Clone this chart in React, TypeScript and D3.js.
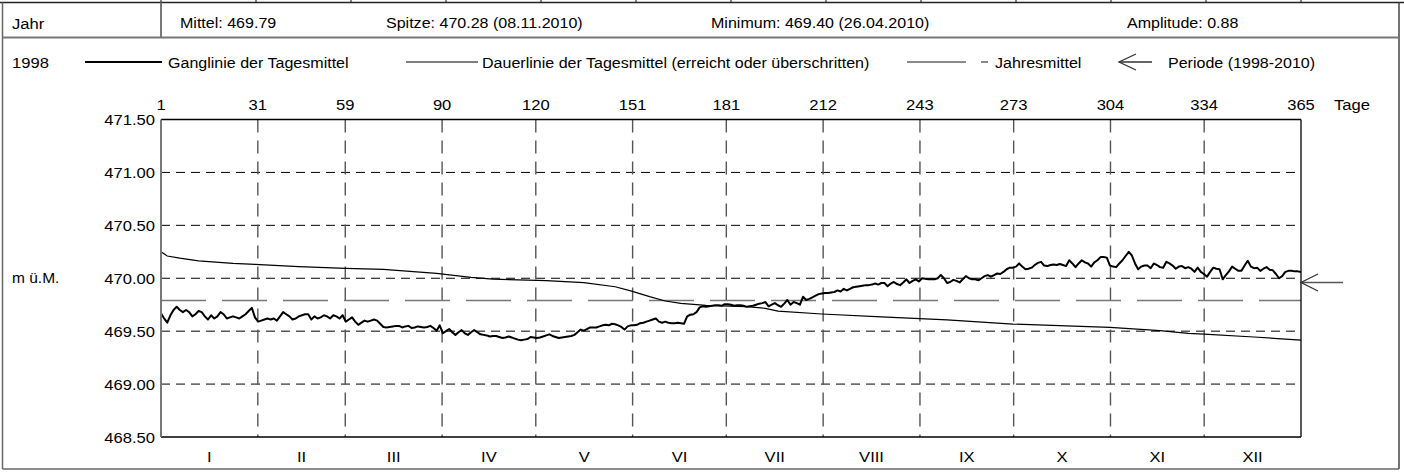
import React from "react";
import * as d3 from "d3";

// Tagesmittel 1998, one array per month (m ü.M.)
const jan = [469.67, 469.62, 469.58, 469.65, 469.70, 469.73, 469.70, 469.68, 469.70, 469.68, 469.64, 469.66, 469.69, 469.68, 469.64, 469.61, 469.65, 469.62, 469.64, 469.68, 469.66, 469.62, 469.63, 469.64, 469.63, 469.62, 469.64, 469.66, 469.69, 469.72, 469.63];
const feb = [469.59, 469.60, 469.61, 469.62, 469.61, 469.62, 469.60, 469.64, 469.68, 469.66, 469.64, 469.61, 469.62, 469.64, 469.65, 469.66, 469.66, 469.61, 469.64, 469.62, 469.63, 469.65, 469.64, 469.62, 469.65, 469.64, 469.62, 469.65];
const mar = [469.59, 469.61, 469.63, 469.59, 469.56, 469.58, 469.60, 469.59, 469.60, 469.61, 469.60, 469.57, 469.54, 469.535, 469.54, 469.545, 469.55, 469.55, 469.535, 469.545, 469.55, 469.53, 469.535, 469.545, 469.54, 469.535, 469.54, 469.55, 469.53, 469.505, 469.555];
const apr = [469.48, 469.50, 469.52, 469.49, 469.465, 469.49, 469.51, 469.48, 469.465, 469.49, 469.51, 469.49, 469.47, 469.465, 469.46, 469.45, 469.455, 469.455, 469.445, 469.435, 469.44, 469.45, 469.44, 469.43, 469.42, 469.415, 469.42, 469.425, 469.445, 469.44];
const may = [469.435, 469.44, 469.45, 469.46, 469.47, 469.455, 469.445, 469.435, 469.44, 469.445, 469.45, 469.455, 469.465, 469.49, 469.515, 469.505, 469.52, 469.535, 469.535, 469.535, 469.545, 469.555, 469.56, 469.555, 469.57, 469.565, 469.555, 469.54, 469.515, 469.545, 469.555];
const jun = [469.555, 469.56, 469.575, 469.58, 469.59, 469.60, 469.61, 469.62, 469.59, 469.58, 469.59, 469.58, 469.575, 469.575, 469.58, 469.575, 469.57, 469.64, 469.655, 469.66, 469.68, 469.725, 469.735, 469.73, 469.735, 469.74, 469.745, 469.745, 469.74, 469.755];
const jul = [469.755, 469.75, 469.74, 469.745, 469.745, 469.74, 469.73, 469.735, 469.74, 469.75, 469.76, 469.765, 469.775, 469.735, 469.75, 469.765, 469.745, 469.73, 469.76, 469.795, 469.75, 469.775, 469.765, 469.75, 469.825, 469.795, 469.805, 469.82, 469.835, 469.85, 469.855];
const aug = [469.86, 469.86, 469.865, 469.87, 469.885, 469.875, 469.90, 469.885, 469.90, 469.915, 469.92, 469.925, 469.93, 469.935, 469.935, 469.94, 469.95, 469.94, 469.955, 469.955, 469.925, 469.95, 469.965, 469.945, 469.935, 469.96, 469.99, 469.955, 469.975, 469.99, 469.97];
const sep = [470.00, 469.995, 469.99, 469.99, 469.99, 470.00, 470.03, 470.00, 469.955, 469.965, 469.985, 469.975, 469.96, 469.99, 470.02, 470.00, 469.99, 469.99, 469.98, 470.00, 470.02, 470.03, 470.015, 470.03, 470.045, 470.04, 470.06, 470.085, 470.10, 470.10];
const oct = [470.11, 470.14, 470.11, 470.085, 470.09, 470.10, 470.125, 470.145, 470.155, 470.12, 470.115, 470.125, 470.13, 470.125, 470.135, 470.125, 470.115, 470.17, 470.14, 470.105, 470.14, 470.17, 470.15, 470.14, 470.11, 470.15, 470.17, 470.20, 470.20, 470.195, 470.12];
const nov = [470.11, 470.105, 470.14, 470.17, 470.21, 470.25, 470.215, 470.14, 470.085, 470.11, 470.12, 470.12, 470.095, 470.14, 470.125, 470.105, 470.10, 470.155, 470.14, 470.12, 470.09, 470.11, 470.115, 470.095, 470.105, 470.09, 470.06, 470.10, 470.06, 470.04];
const dec = [470.015, 470.06, 470.10, 470.09, 470.085, 469.99, 470.03, 470.065, 470.11, 470.09, 470.07, 470.07, 470.12, 470.165, 470.11, 470.095, 470.10, 470.07, 470.09, 470.105, 470.08, 470.075, 470.04, 470.00, 470.02, 470.06, 470.07, 470.07, 470.065, 470.065, 470.06];

// Dauerlinie (reached or exceeded), [day, value]
const dauerlinie: [number, number][] = [
  [1, 470.25], [3, 470.21], [7, 470.19], [13, 470.165], [24, 470.14], [31, 470.131],
  [45, 470.11], [60, 470.093], [72, 470.083], [89, 470.046], [100, 470.008], [107, 469.992],
  [115, 469.985], [124, 469.978], [136, 469.958], [146, 469.92], [151, 469.88], [157, 469.826],
  [162, 469.785], [167, 469.763], [175, 469.744], [188, 469.731], [194, 469.716], [198, 469.69],
  [212, 469.662], [231, 469.635], [252, 469.606], [273, 469.567], [304, 469.536], [320, 469.505],
  [329, 469.479], [334, 469.472], [350, 469.445], [365, 469.415],
];

const jahresmittel = 469.79;
const periodeMittel = 469.96;

const yTicks = [468.5, 469.0, 469.5, 470.0, 470.5, 471.0, 471.5];
const monthEnds = [0, 31, 59, 90, 120, 151, 181, 212, 243, 273, 304, 334, 365];
const dayLabels = ["1", "31", "59", "90", "120", "151", "181", "212", "243", "273", "304", "334", "365"];
const months = ["I", "II", "III", "IV", "V", "VI", "VII", "VIII", "IX", "X", "XI", "XII"];

const headerTexts = ["Mittel: 469.79", "Spitze: 470.28 (08.11.2010)", "Minimum: 469.40 (26.04.2010)", "Amplitude: 0.88"];

const W = 1404, H = 472;
const L = 161, R = 1301, TOP = 119.5, BOT = 437;

// text is drawn slightly wider than the font, like in the original
const T = ({ x, y, anchor = "start", size = 15.5, children }: any) => (
  <text transform={`translate(${x},${y}) scale(1.07,1)`} textAnchor={anchor} fontSize={size}>
    {children}
  </text>
);

export default function App() {
  const ganglinie = [...jan, ...feb, ...mar, ...apr, ...may, ...jun, ...jul, ...aug, ...sep, ...oct, ...nov, ...dec];

  const x = d3.scaleLinear().domain([0, 365]).range([L, R]);
  const xd = d3.scaleLinear().domain([1, 365]).range([L, R]);
  const y = d3.scaleLinear().domain([468.5, 471.5]).range([BOT, TOP]);

  const gangPath = d3.line<number>().x((_, i) => xd(i + 1)).y((d) => y(d))(ganglinie) || "";
  const dauerPath = d3.line<[number, number]>().x((d) => xd(d[0])).y((d) => y(d[1]))(dauerlinie) || "";

  const topCols = d3.range(13).map((i) => L + (i * (R - L)) / 12);
  const headerX = [180, 386, 711, 1127];
  const ya = y(periodeMittel);

  return (
    <svg width={W} height={H} style={{ position: "absolute", left: 0, top: 0, background: "#fff" }}
      fontFamily="'Liberation Sans', Arial, sans-serif">
      {/* remains of the table above */}
      {topCols.map((cx, i) => (
        <line key={i} x1={cx} x2={cx} y1={0} y2={2.5} stroke="#333" strokeWidth={1.2} />
      ))}
      {/* frame */}
      <line x1={0} x2={W} y1={2.5} y2={2.5} stroke="#222" strokeWidth={1.5} />
      <line x1={2.5} x2={2.5} y1={2.5} y2={469} stroke="#666" strokeWidth={1.5} />
      <line x1={1399} x2={1399} y1={2.5} y2={469} stroke="#444" strokeWidth={1.5} />
      <line x1={2.5} x2={1399} y1={469} y2={469} stroke="#666" strokeWidth={1.5} />
      <line x1={2.5} x2={1399} y1={37.5} y2={37.5} stroke="#777" strokeWidth={2} />
      <line x1={L} x2={L} y1={2.5} y2={37.5} stroke="#777" strokeWidth={2} />

      {/* header row */}
      <T x={12} y={29}>Jahr</T>
      {headerTexts.map((t, i) => (
        <T key={t} x={headerX[i]} y={28} size={15}>{t}</T>
      ))}

      {/* legend row */}
      <T x={12} y={67.5}>1998</T>
      <line x1={85} x2={162} y1={62} y2={62} stroke="#000" strokeWidth={2.2} />
      <T x={168} y={67.5} size={15}>Ganglinie der Tagesmittel</T>
      <line x1={406} x2={478} y1={62} y2={62} stroke="#000" strokeWidth={1.1} />
      <T x={482} y={67.5} size={15}>Dauerlinie der Tagesmittel (erreicht oder überschritten)</T>
      <line x1={907} x2={988} y1={62} y2={62} stroke="#666" strokeWidth={1.5} strokeDasharray="59,15" />
      <T x={995} y={67.5} size={15}>Jahresmittel</T>
      <line x1={1119} x2={1152} y1={62} y2={62} stroke="#333" strokeWidth={1.3} />
      <path d="M1136,54 L1119,62 L1136,70" fill="none" stroke="#333" strokeWidth={1.3} />
      <T x={1168} y={67.5} size={15}>Periode (1998-2010)</T>

      {/* grid */}
      {yTicks.slice(1, -1).map((v) => (
        <line key={v} x1={L} x2={R} y1={y(v)} y2={y(v)} stroke="#000" strokeWidth={1} strokeDasharray="9,6" />
      ))}
      {monthEnds.slice(1, -1).map((d) => (
        <line key={d} x1={x(d)} x2={x(d)} y1={TOP} y2={BOT} stroke="#555" strokeWidth={1.4} strokeDasharray="13,8" />
      ))}

      {/* Jahresmittel */}
      <line x1={L} x2={R} y1={y(jahresmittel)} y2={y(jahresmittel)} stroke="#777" strokeWidth={1.5} strokeDasharray="45,16" />

      {/* data */}
      <path d={dauerPath} fill="none" stroke="#000" strokeWidth={1.2} />
      <path d={gangPath} fill="none" stroke="#000" strokeWidth={2} strokeLinejoin="round" />

      {/* plot frame */}
      <line x1={L} x2={R} y1={TOP} y2={TOP} stroke="#000" strokeWidth={1.3} />
      <line x1={R} x2={R} y1={TOP} y2={BOT} stroke="#000" strokeWidth={1.3} />
      <line x1={L} x2={R} y1={BOT} y2={BOT} stroke="#000" strokeWidth={1.5} />
      <line x1={L} x2={L} y1={TOP} y2={BOT} stroke="#777" strokeWidth={2} />

      {/* period mean arrow */}
      <line x1={R} x2={1343} y1={ya} y2={ya} stroke="#555" strokeWidth={1.5} />
      <path d={`M${R + 17},${ya - 8.5} L${R},${ya} L${R + 17},${ya + 8.5}`} fill="none" stroke="#333" strokeWidth={1.3} />

      {/* y axis labels */}
      {yTicks.map((v) => (
        <T key={v} x={155} y={y(v) + 5.5} anchor="end">{v.toFixed(2)}</T>
      ))}
      <T x={12} y={283} size={14.5}>m ü.M.</T>

      {/* day labels on top */}
      {monthEnds.map((d, i) => (
        <T key={d} x={x(d)} y={110} anchor="middle">{dayLabels[i]}</T>
      ))}
      <T x={1334} y={110}>Tage</T>

      {/* month labels */}
      {months.map((m, i) => (
        <T key={m} x={(x(monthEnds[i]) + x(monthEnds[i + 1])) / 2} y={461.5} anchor="middle">{m}</T>
      ))}
    </svg>
  );
}
